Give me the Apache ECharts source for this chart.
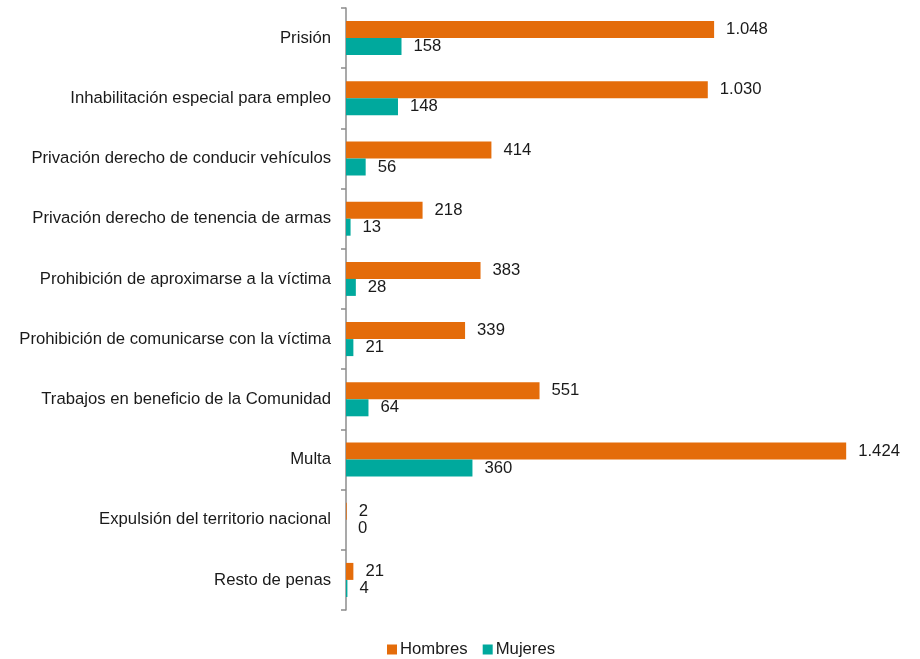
<!DOCTYPE html>
<html>
<head>
<meta charset="utf-8">
<script src="https://cdn.jsdelivr.net/npm/echarts@6/dist/echarts.min.js"></script>
<style>
  html, body { margin: 0; padding: 0; background: #ffffff; }
  #chart { width: 920px; height: 659px; }
</style>
</head>
<body>
<div id="chart"></div>
<script>
// Penas impuestas por tipo y sexo
const categories = [
  'Prisión',
  'Inhabilitación especial para empleo',
  'Privación derecho de conducir vehículos',
  'Privación derecho de tenencia de armas',
  'Prohibición de aproximarse a la víctima',
  'Prohibición de comunicarse con la víctima',
  'Trabajos en beneficio de la Comunidad',
  'Multa',
  'Expulsión del territorio nacional',
  'Resto de penas'
];
const hombres = [1048, 1030, 414, 218, 383, 339, 551, 1424, 2, 21];
const mujeres = [158, 148, 56, 13, 28, 21, 64, 360, 0, 4];
const seriesNames = ['Hombres', 'Mujeres'];

const fmt = v => String(v).replace(/\B(?=(\d{3})+(?!\d))/g, '.');
const font = '"Liberation Sans", Arial, sans-serif';
const fs = 16.7;

const chart = echarts.init(document.getElementById('chart'));
chart.setOption({
  animation: false,
  textStyle: { fontFamily: font },
  legend: {
    top: 641,
    left: 387,
    padding: 0,
    itemWidth: 10,
    itemHeight: 10,
    itemGap: 15,
    icon: 'rect',
    textStyle: { fontSize: fs, color: '#1a1a1a', fontFamily: font, padding: [0, 0, 0, -2] },
    data: seriesNames
  },
  grid: { left: 346, right: 12, top: 8, bottom: 49, containLabel: false },
  xAxis: {
    type: 'value',
    min: 0,
    max: 1600,
    show: false
  },
  yAxis: {
    type: 'category',
    inverse: true,
    data: categories,
    boundaryGap: true,
    axisLine: { show: true, lineStyle: { color: '#8c8c8c', width: 1.5 } },
    axisTick: { show: true, length: 5, lineStyle: { color: '#8c8c8c', width: 1.5 } },
    axisLabel: { fontSize: fs, color: '#1a1a1a', margin: 15, fontFamily: font }
  },
  series: [
    {
      name: seriesNames[0],
      type: 'bar',
      data: hombres,
      barWidth: 17,
      barGap: '0%',
      itemStyle: { color: '#E46C0A' },
      label: { show: true, position: 'right', distance: 12, fontSize: fs, color: '#1a1a1a', fontFamily: font, formatter: p => fmt(p.value) }
    },
    {
      name: seriesNames[1],
      type: 'bar',
      data: mujeres,
      barWidth: 17,
      barGap: '0%',
      itemStyle: { color: '#00A99D' },
      label: { show: true, position: 'right', distance: 12, fontSize: fs, color: '#1a1a1a', fontFamily: font, formatter: p => fmt(p.value) }
    }
  ]
});
</script>
</body>
</html>
